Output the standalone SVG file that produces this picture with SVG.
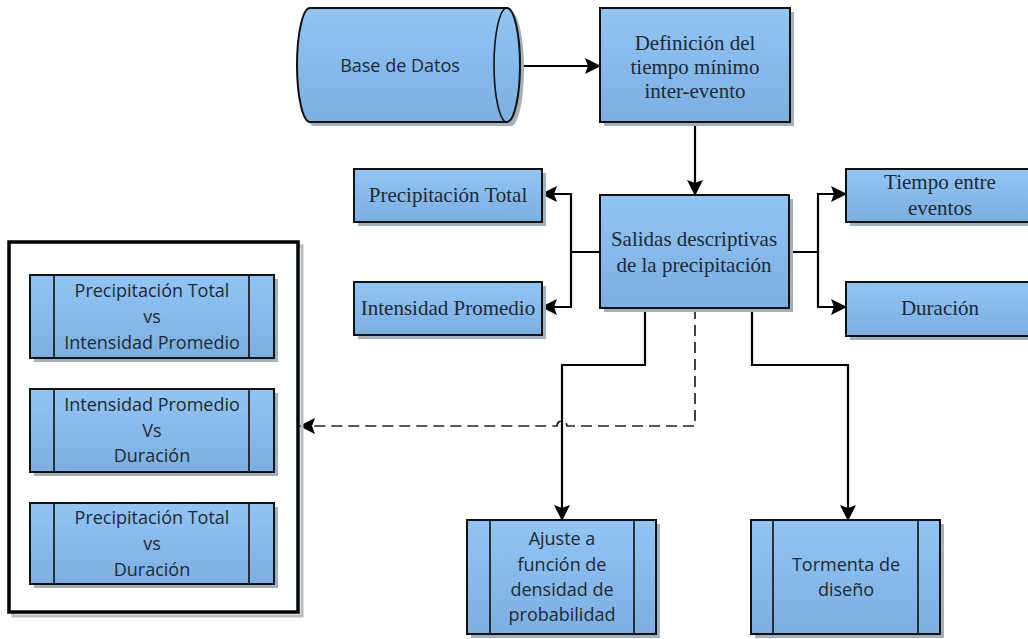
<svg xmlns="http://www.w3.org/2000/svg" width="1028" height="639" viewBox="0 0 1028 639">
  <defs>
    <linearGradient id="fillBlue" x1="0" y1="0" x2="0" y2="1">
      <stop offset="0" stop-color="#92c5f4"/>
      <stop offset="1" stop-color="#7cafe0"/>
    </linearGradient>
    <marker id="arrow" viewBox="0 0 16 16" refX="15" refY="8" markerWidth="16" markerHeight="16" markerUnits="userSpaceOnUse" orient="auto">
      <path d="M0,0 L16,8 L0,16 L3,8 Z" fill="#000"/>
    </marker>
  </defs>
  <style>
    .box { fill: url(#fillBlue); stroke: #111; stroke-width: 2; }
    .shadow { fill: #a3b1ba; }
    .bar { stroke: #111; stroke-width: 1.6; fill: none; }
    .serif { font-family: "Liberation Serif", "Times New Roman", serif; font-size: 21px; fill: #1c2a36; text-anchor: middle; }
    .sans { font-family: "Open Sans", "Liberation Sans", Arial, sans-serif; font-size: 18px; fill: #1c2a36; text-anchor: middle; }
    .link { fill: none; stroke: #000; stroke-width: 2.2; }
    .dash { fill: none; stroke: #222; stroke-width: 1.7; stroke-dasharray: 11 6; }
  </style>

  <rect width="1028" height="639" fill="#fff"/>

  <!-- connectors -->
  <g id="connectors">
    <path class="link" d="M520,66 H600" marker-end="url(#arrow)"/>
    <path class="link" d="M695,122 V195" marker-end="url(#arrow)"/>
    <path class="link" d="M600,252 H571 V194 H542" marker-end="url(#arrow)"/>
    <path class="link" d="M571,252 V307 H542" marker-end="url(#arrow)"/>
    <path class="link" d="M789,252 H818 V194 H846" marker-end="url(#arrow)"/>
    <path class="link" d="M818,252 V307 H846" marker-end="url(#arrow)"/>
    <path class="link" d="M645,308 V365 H562 V520" marker-end="url(#arrow)"/>
    <path class="link" d="M752,308 V365 H848 V520" marker-end="url(#arrow)"/>
    <path class="dash" d="M695,308 V426 H567 A5,5 0 0 0 557,426 H300" marker-end="url(#arrow)"/>
  </g>

  <!-- database cylinder -->
  <g id="base-datos">
    <path class="shadow" d="M314,12 H511 A13,57 0 0 1 511,126 H314 A13,57 0 0 1 314,12 Z"/>
    <path class="box" d="M310,8 H507 A13,57 0 0 1 507,122 H310 A13,57 0 0 1 310,8 Z"/>
    <path class="bar" d="M507,8 A13,57 0 0 0 507,122"/>
    <text class="sans" x="400" y="72">Base de Datos</text>
  </g>

  <g id="definicion">
    <rect class="shadow" x="604" y="12" width="190" height="114"/>
    <rect class="box" x="600" y="8" width="190" height="114"/>
    <text class="serif" x="695" y="50">Definición del</text>
    <text class="serif" x="695" y="74">tiempo mínimo</text>
    <text class="serif" x="695" y="98">inter-evento</text>
  </g>

  <g id="salidas">
    <rect class="shadow" x="604" y="199" width="189" height="113"/>
    <rect class="box" x="600" y="195" width="189" height="113"/>
    <text class="serif" x="694" y="246">Salidas descriptivas</text>
    <text class="serif" x="694" y="272">de la precipitación</text>
  </g>

  <g id="precipitacion-total">
    <rect class="shadow" x="358" y="173" width="188" height="53"/>
    <rect class="box" x="354" y="169" width="188" height="53"/>
    <text class="serif" x="448" y="202">Precipitación Total</text>
  </g>

  <g id="intensidad-promedio">
    <rect class="shadow" x="358" y="286" width="188" height="53"/>
    <rect class="box" x="354" y="282" width="188" height="53"/>
    <text class="serif" x="448" y="315">Intensidad Promedio</text>
  </g>

  <g id="tiempo-entre-eventos">
    <rect class="shadow" x="850" y="173" width="188" height="53"/>
    <rect class="box" x="846" y="169" width="188" height="53"/>
    <text class="serif" x="940" y="189">Tiempo entre</text>
    <text class="serif" x="940" y="215">eventos</text>
  </g>

  <g id="duracion">
    <rect class="shadow" x="850" y="286" width="188" height="54"/>
    <rect class="box" x="846" y="282" width="188" height="54"/>
    <text class="serif" x="940" y="315">Duración</text>
  </g>

  <!-- group of comparison plots -->
  <g id="graficos">
    <rect x="13" y="246" width="289" height="370" fill="none" stroke="#b8bec2" stroke-width="3"/>
    <rect x="9" y="242" width="289" height="370" fill="#fff" stroke="#000" stroke-width="3.5"/>
  </g>

  <g id="pt-vs-ip">
    <rect class="shadow" x="34" y="279" width="244" height="83"/>
    <rect class="box" x="30" y="275" width="244" height="83"/>
    <path class="bar" d="M54,275 V358 M249,275 V358"/>
    <text class="sans" x="152" y="297">Precipitación Total</text>
    <text class="sans" x="152" y="323">vs</text>
    <text class="sans" x="152" y="349">Intensidad Promedio</text>
  </g>

  <g id="ip-vs-dur">
    <rect class="shadow" x="34" y="393" width="244" height="83"/>
    <rect class="box" x="30" y="389" width="244" height="83"/>
    <path class="bar" d="M54,389 V472 M249,389 V472"/>
    <text class="sans" x="152" y="411">Intensidad Promedio</text>
    <text class="sans" x="152" y="437">Vs</text>
    <text class="sans" x="152" y="462">Duración</text>
  </g>

  <g id="pt-vs-dur">
    <rect class="shadow" x="34" y="507" width="244" height="81"/>
    <rect class="box" x="30" y="503" width="244" height="81"/>
    <path class="bar" d="M54,503 V584 M249,503 V584"/>
    <text class="sans" x="152" y="524">Precipitación Total</text>
    <text class="sans" x="152" y="550">vs</text>
    <text class="sans" x="152" y="576">Duración</text>
  </g>

  <g id="ajuste">
    <rect class="shadow" x="471" y="524" width="189" height="114"/>
    <rect class="box" x="467" y="520" width="189" height="114"/>
    <path class="bar" d="M490,520 V634 M634,520 V634"/>
    <text class="sans" x="562" y="545">Ajuste a</text>
    <text class="sans" x="562" y="571">función de</text>
    <text class="sans" x="562" y="596">densidad de</text>
    <text class="sans" x="562" y="621">probabilidad</text>
  </g>

  <g id="tormenta">
    <rect class="shadow" x="755" y="524" width="189" height="114"/>
    <rect class="box" x="751" y="520" width="189" height="114"/>
    <path class="bar" d="M773,520 V634 M918,520 V634"/>
    <text class="sans" x="846" y="571">Tormenta de</text>
    <text class="sans" x="846" y="596">diseño</text>
  </g>
</svg>
